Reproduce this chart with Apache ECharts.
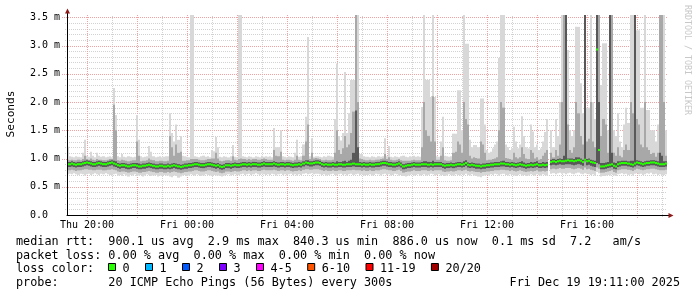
<!DOCTYPE html>
<html>
<head>
<meta charset="utf-8">
<script src="https://cdn.jsdelivr.net/npm/echarts@6/dist/echarts.min.js"></script>
<style>
html,body{margin:0;padding:0;background:#fff;}
#chart{width:697px;height:297px;}
</style>
</head>
<body>
<div id="chart"></div>
<script>
// ---- time frame (hours since Thu 00:00) ----
const startHour = 19.2;          // Thu 19:12
const spanHours = 24;
const stepMinutes = 5;

// ---- axis ticks / labels ----
const labelHours = [20, 24, 28, 32, 36, 40];
const tickLabels = ['Thu 20:00', 'Fri 00:00', 'Fri 04:00', 'Fri 08:00', 'Fri 12:00', 'Fri 16:00'];
const majorHours = [20, 22, 24, 26, 28, 30, 32, 34, 36, 38, 40, 42];
const minorHours = [21, 23, 25, 27, 29, 31, 33, 35, 37, 39, 41, 43];
const yMajor = [0, 0.5, 1.0, 1.5, 2.0, 2.5, 3.0, 3.5];
const yMinor = [0.1, 0.2, 0.3, 0.4, 0.6, 0.7, 0.8, 0.9, 1.1, 1.2, 1.3, 1.4, 1.6, 1.7, 1.8, 1.9,
                2.1, 2.2, 2.3, 2.4, 2.6, 2.7, 2.8, 2.9, 3.1, 3.2, 3.3, 3.4];

// ---- per-step values, in 1/100 ms (288 five-minute steps) ----
const median = [
 90,90,91,90,89,90,90,91,92,93,92,91,90,90,91,92,91,90,90,91,92,93,91,90,
 88,87,88,88,87,86,87,88,88,87,86,86,87,87,88,89,88,87,86,86,87,87,86,86,
 87,86,87,88,87,86,85,86,87,87,88,88,89,90,90,89,88,88,89,90,90,89,88,87,
 88,86,85,86,88,88,87,88,89,88,88,89,90,90,89,90,89,90,90,89,89,90,91,90,
 90,90,90,91,90,89,90,90,89,90,90,89,88,89,89,90,89,91,93,92,91,91,92,93,
 93,92,90,89,90,89,89,90,89,89,90,90,89,89,90,90,90,91,90,90,90,89,90,89,
 89,90,89,89,90,90,91,92,92,91,90,90,89,89,90,91,89,86,87,88,88,89,90,89,
 89,89,90,90,90,89,90,89,90,90,90,90,88,87,88,88,89,88,89,90,90,89,90,92,
 89,88,89,88,87,87,86,87,87,88,88,89,89,90,90,90,91,91,90,90,89,90,89,88,
 89,90,89,88,87,88,89,88,89,90,88,88,89,88,89,null,94,95,94,95,96,95,95,96,
 97,96,96,95,96,97,96,94,98,95,96,94,93,92,293,115,86,86,87,88,89,90,87,86,
 90,91,92,92,92,91,90,89,91,93,92,91,90,91,92,92,93,93,92,91,90,90,90,91
];
const pingMax = [
 121,104,103,102,104,103,102,110,133,105,103,112,105,102,110,105,103,104,102,103,104,102,225,177,
 104,102,108,103,102,104,103,102,103,177,133,104,102,103,104,122,112,104,102,103,104,102,103,104,
 104,180,145,130,160,133,140,105,104,103,102,360,360,104,103,102,104,105,103,104,102,115,113,138,
 120,103,102,104,103,102,104,124,103,102,360,360,104,103,102,104,103,102,104,103,102,105,103,104,
 103,104,102,154,120,120,150,104,103,102,104,103,102,110,133,103,104,125,174,315,104,136,103,104,
 104,103,102,104,103,105,104,103,170,268,140,132,145,253,145,180,239,239,360,360,108,108,104,103,
 103,102,104,103,102,104,103,104,136,104,122,103,102,104,103,102,104,105,103,102,104,103,105,103,
 104,103,191,360,239,239,209,360,209,104,103,130,174,105,104,103,104,144,144,221,221,150,360,303,
 303,133,120,124,124,120,206,206,160,115,110,112,118,125,130,278,360,360,125,120,115,118,156,130,
 118,125,175,140,120,118,160,148,120,125,115,118,130,147,170,null,150,120,170,140,200,360,360,360,
 292,150,140,150,333,333,233,180,360,190,190,360,200,170,360,360,230,304,304,150,360,360,150,140,
 180,130,120,160,190,163,360,360,360,327,327,190,190,360,186,186,150,150,130,160,360,360,360,150
];
const ping90 = [
 98,97,98,97,97,98,97,99,105,99,98,100,98,97,99,98,98,97,97,98,99,99,195,150,
 97,96,98,97,96,95,96,97,97,130,105,95,96,96,97,100,98,97,95,95,96,96,95,95,
 96,140,120,105,125,110,112,96,96,97,97,99,99,99,99,98,97,97,98,99,99,100,100,110,
 100,96,95,96,97,97,96,104,98,97,99,100,99,99,98,99,98,99,99,98,98,99,100,99,
 98,98,98,115,105,104,112,98,97,98,98,97,96,98,105,98,97,105,130,160,99,110,100,101,
 100,99,97,97,98,97,97,98,110,150,115,108,118,140,120,125,145,183,360,200,100,99,98,97,
 97,98,97,97,98,98,99,100,108,99,102,98,97,97,98,99,97,96,96,96,96,97,98,97,
 97,97,120,200,150,140,130,210,130,98,98,105,120,97,96,96,97,110,112,130,125,110,200,170,
 160,105,100,102,101,100,130,125,110,97,98,98,99,100,102,150,200,190,101,100,99,98,110,102,
 100,102,120,108,100,99,115,110,100,102,98,99,105,110,115,null,110,102,115,105,125,200,360,360,
 160,115,110,120,200,180,140,125,360,130,135,200,130,120,360,360,140,170,160,110,360,360,110,105,
 120,105,102,115,125,115,200,180,360,170,160,125,120,200,120,115,108,110,103,110,360,360,200,105
];
const ping75 = [
 94,94,95,94,93,94,94,95,96,97,96,95,94,94,95,96,95,94,94,95,96,97,96,95,
 92,91,92,92,91,90,91,92,92,92,91,90,91,91,92,93,92,91,90,90,91,91,90,90,
 91,90,91,92,91,90,89,90,91,91,92,92,93,94,94,93,92,92,93,94,94,93,92,91,
 92,90,89,90,92,92,91,92,93,92,92,93,94,94,93,94,93,94,94,93,93,94,95,94,
 94,94,94,95,94,93,94,94,93,94,94,93,92,93,93,94,93,95,97,97,95,95,96,97,
 97,96,94,93,94,93,93,94,93,95,94,94,95,96,94,96,98,110,185,120,94,93,94,93,
 93,94,93,93,94,94,95,96,96,95,94,94,93,93,94,95,93,90,91,92,92,93,94,93,
 93,93,94,95,95,94,94,96,94,94,94,94,92,91,92,92,93,92,93,94,94,93,95,97,
 93,92,93,92,91,91,90,91,91,92,92,93,93,94,94,94,95,96,94,94,93,94,93,92,
 93,94,95,93,91,92,94,93,94,95,92,92,94,93,94,null,98,99,98,99,100,99,105,360,
 100,100,100,99,102,102,100,98,360,99,100,98,97,96,360,200,92,92,93,94,360,110,93,92,
 95,95,96,96,96,95,96,96,360,97,96,95,94,95,96,96,97,97,96,95,110,105,95,95
];
const ping25 = [
 85,85,86,85,84,85,85,86,87,88,87,86,85,85,86,87,86,85,85,86,87,88,86,85,
 83,82,83,83,82,81,82,83,83,82,81,81,82,82,83,84,83,82,81,81,82,82,81,81,
 82,81,82,83,82,81,80,81,82,82,83,83,84,85,85,84,83,83,84,85,85,84,83,82,
 83,81,80,81,83,83,82,83,84,83,83,84,85,85,84,85,84,85,85,84,84,85,86,85,
 85,85,85,86,85,84,85,85,84,85,85,84,83,84,84,85,84,86,88,87,86,86,87,88,
 88,87,85,84,85,84,84,85,84,84,85,85,84,84,85,85,85,86,85,85,85,84,85,84,
 84,85,84,84,85,85,86,87,87,86,85,85,84,84,85,86,84,81,82,83,83,84,85,84,
 84,84,85,85,85,84,85,84,85,85,85,85,83,82,83,83,84,83,84,85,85,84,85,87,
 84,83,84,83,82,82,81,82,82,83,83,84,84,85,85,85,86,86,85,85,84,85,84,83,
 84,85,84,83,82,83,84,83,84,85,83,83,84,83,84,null,88,89,88,89,90,89,89,90,
 90,90,89,88,89,90,89,87,95,88,89,87,86,85,92,90,81,81,82,83,84,85,82,81,
 85,86,87,87,87,86,85,84,86,88,87,86,85,86,87,87,88,88,87,86,85,85,85,86
];
const ping10 = [
 79,79,80,79,78,79,79,80,81,81,80,80,79,79,80,80,80,79,79,80,80,81,80,79,
 77,76,77,77,76,75,76,77,77,76,75,75,76,76,77,78,77,76,75,75,76,76,75,75,
 76,75,76,77,76,75,74,75,76,76,77,77,78,79,79,78,77,77,78,79,79,78,77,76,
 77,75,74,75,77,77,76,77,78,77,77,78,79,79,78,79,78,79,79,78,78,79,80,79,
 79,79,79,80,79,78,79,79,78,79,79,78,77,78,78,79,78,80,81,81,80,80,81,81,
 81,80,79,78,79,78,78,79,78,78,79,79,78,78,79,79,79,80,79,79,79,78,79,78,
 78,79,78,78,79,79,80,81,81,80,79,79,78,78,79,80,78,75,76,77,77,78,79,78,
 78,78,79,79,79,78,79,78,79,79,79,79,77,76,77,77,78,77,78,79,79,78,79,80,
 78,77,78,77,76,76,75,76,76,77,77,78,78,79,79,79,80,80,79,79,78,79,78,77,
 78,79,78,77,76,77,78,77,78,79,77,77,78,77,78,null,81,82,81,82,83,82,82,83,
 83,83,82,81,82,83,82,80,84,81,82,80,79,78,84,82,75,75,76,77,78,79,76,75,
 79,80,81,81,81,80,79,78,80,82,81,80,79,80,81,81,82,82,81,80,79,79,79,80
];
const pingMin = [
 72,73,72,74,72,71,73,72,70,72,73,71,72,74,72,71,73,72,74,72,71,70,72,73,
 70,71,69,72,70,68,71,70,72,69,70,71,68,70,72,71,69,70,71,68,70,69,71,70,
 70,68,67,70,69,66,68,70,71,69,70,72,71,70,72,71,69,70,72,71,70,69,71,70,
 70,69,68,70,71,72,70,71,72,70,71,72,73,71,72,73,71,72,74,72,71,73,72,71,
 72,71,73,72,70,72,73,71,72,70,72,73,71,72,70,72,71,73,74,72,73,74,72,73,
 73,72,71,72,70,71,72,73,71,70,72,73,71,72,70,72,73,71,72,73,71,72,70,71,
 71,72,70,71,73,72,70,72,73,71,72,70,71,73,72,70,71,69,68,70,71,72,70,71,
 72,70,71,72,70,71,73,72,70,71,72,70,71,69,70,72,71,70,72,71,70,72,71,73,
 71,70,72,70,69,68,67,69,70,71,70,72,71,73,72,70,72,73,71,70,72,71,70,69,
 71,72,70,71,69,70,72,71,70,72,71,70,72,71,70,null,73,74,72,74,75,73,74,72,
 74,75,73,72,74,75,73,72,74,73,72,71,72,70,76,74,68,69,70,71,70,72,70,69,
 72,73,74,72,73,71,72,70,73,74,72,73,71,72,74,73,75,72,73,71,72,70,71,72
];

// ---- legend texts ----
const lossLabels = ['0', '1', '2', '3', '4-5', '6-10', '11-19', '20/20'];
const lossColors = ['#26ff00', '#00b8ff', '#0059ff', '#7e00ff', '#ff00ff', '#ff5500', '#ff0000', '#a10000'];
const statLines = [
  'median rtt:  900.1 us avg  2.9 ms max  840.3 us min  886.0 us now  0.1 ms sd  7.2   am/s',
  'packet loss: 0.00 % avg  0.00 % max  0.00 % min  0.00 % now'
];
const probeText = 'probe:       20 ICMP Echo Pings (56 Bytes) every 300s';
const dateText = 'Fri Dec 19 19:11:00 2025';

// ---- build ----
const stepHours = stepMinutes / 60;
const toMs = v => (v === null ? null : v / 100);
const data = median.map((m, i) => [
  startHour + i * stepHours,
  toMs(pingMin[i]), toMs(ping10[i]), toMs(ping25[i]),
  toMs(ping75[i]), toMs(ping90[i]), toMs(pingMax[i]), toMs(m)
]);

const MONO = '"DejaVu Sans Mono"';
const RED = '#f0a2a2';
const GREY = '#d2d2d2';

const chart = echarts.init(document.getElementById('chart'), null, {renderer: 'canvas'});

function renderSmoke(params, api) {
  const idx = params.dataIndex;
  const v = [1, 2, 3, 4, 5, 6, 7].map(k => api.value(k));
  if (v.some(x => x == null || isNaN(x))) return null;
  const cs = params.coordSys;
  const clip = {x: cs.x, y: cs.y, width: cs.width, height: cs.height};
  const tA = startHour + idx * stepHours;
  const tB = startHour + (idx + 1) * stepHours;
  const xa = Math.round(api.coord([tA, 0])[0]);
  const xb = Math.round(api.coord([tB, 0])[0]);
  const band = (lo, hi, fill) => {
    const yt = api.coord([tA, hi])[1];
    const yb = api.coord([tA, lo])[1];
    const r = echarts.graphic.clipRectByRect({x: xa, y: yt, width: xb - xa, height: yb - yt}, clip);
    return r ? {type: 'rect', shape: r, style: {fill: fill}} : null;
  };
  const ym = api.coord([tA, v[6]])[1];
  const medRect = echarts.graphic.clipRectByRect({x: xa, y: ym - 1, width: xb - xa, height: 2}, clip);
  const children = [
    band(v[0], v[5], '#d8d8d8'),
    band(v[1], v[4], '#a8a8a8'),
    band(v[2], v[3], '#585858'),
    medRect ? {type: 'rect', shape: medRect, style: {fill: lossColors[0]}} : null
  ].filter(Boolean);
  return {type: 'group', children: children};
}

// grid line series (vertical: dim0 = hour; horizontal: dim1 = value)
function vGrid(name, hours, color, ext) {
  return {
    type: 'custom', name: name, silent: true, z: 1, clip: false,
    data: hours.map(h => [h, 0]),
    renderItem: function (params, api) {
      const cs = params.coordSys;
      const x = Math.round(api.coord([api.value(0), 0])[0]) + 0.5;
      return {type: 'line', shape: {x1: x, y1: cs.y + cs.height + ext, x2: x, y2: cs.y},
        style: {stroke: color, lineWidth: 1, lineDash: [1, 1]}};
    }
  };
}
function hGrid(name, vals, color, ext) {
  return {
    type: 'custom', name: name, silent: true, z: 1, clip: false,
    data: vals.map(v => [startHour, v]),
    renderItem: function (params, api) {
      const cs = params.coordSys;
      const y = Math.round(api.coord([startHour, api.value(1)])[1]) + 0.5;
      return {type: 'line', shape: {x1: cs.x - ext, y1: y, x2: cs.x + cs.width, y2: y},
        style: {stroke: color, lineWidth: 1, lineDash: [1, 1]}};
    }
  };
}

// legend graphics
const graphics = [];
const lineY = [242, 256, 269, 283];
statLines.forEach((s, k) => {
  graphics.push({type: 'text', x: 16, y: lineY[k], silent: true,
    style: {text: s, font: '11.8px ' + MONO, fill: '#000', textAlign: 'left', textVerticalAlign: 'middle'}});
});
graphics.push({type: 'text', x: 16, y: lineY[2], silent: true,
  style: {text: 'loss color:', font: '11.8px ' + MONO, fill: '#000', textAlign: 'left', textVerticalAlign: 'middle'}});
let cursor = 108.5;
lossLabels.forEach((lab, k) => {
  graphics.push({type: 'rect', silent: true,
    shape: {x: cursor, y: 263.5, width: 7, height: 7},
    style: {fill: lossColors[k], stroke: '#000', lineWidth: 1}});
  graphics.push({type: 'text', x: cursor + 14, y: lineY[2], silent: true,
    style: {text: lab, font: '11.8px ' + MONO, fill: '#000', textAlign: 'left', textVerticalAlign: 'middle'}});
  cursor += 29.9 + 7.1 * lab.length;
});
graphics.push({type: 'text', x: 16, y: lineY[3], silent: true,
  style: {text: probeText, font: '11.8px ' + MONO, fill: '#000', textAlign: 'left', textVerticalAlign: 'middle'}});
graphics.push({type: 'text', x: 680, y: lineY[3], silent: true,
  style: {text: dateText, font: '11.8px ' + MONO, fill: '#000', textAlign: 'right', textVerticalAlign: 'middle'}});
// axis title and watermark
graphics.push({type: 'text', x: 11, y: 114, rotation: Math.PI / 2, silent: true,
  style: {text: 'Seconds', font: '11.2px ' + MONO, fill: '#000', textAlign: 'center', textVerticalAlign: 'middle'}});
graphics.push({type: 'text', x: 687, y: 60, rotation: -Math.PI / 2, silent: true,
  style: {text: 'RRDTOOL / TOBI OETIKER', font: '8.3px ' + MONO, fill: '#c8c8c8', textAlign: 'center', textVerticalAlign: 'middle'}});
// axis arrows
graphics.push({type: 'line', silent: true, shape: {x1: 67.5, y1: 15, x2: 67.5, y2: 12}, style: {stroke: '#000', lineWidth: 1}});
graphics.push({type: 'polygon', silent: true, shape: {points: [[65, 13.5], [70, 13.5], [67.5, 8.5]]}, style: {fill: '#8e1a1a'}});
graphics.push({type: 'line', silent: true, shape: {x1: 667, y1: 215.5, x2: 669, y2: 215.5}, style: {stroke: '#000', lineWidth: 1}});
graphics.push({type: 'polygon', silent: true, shape: {points: [[668.5, 213], [668.5, 218], [673.5, 215.5]]}, style: {fill: '#8e1a1a'}});

const axisFont = {fontFamily: MONO, fontSize: 10, color: '#000'};

const option = {
  animation: false,
  backgroundColor: '#ffffff',
  grid: {left: 67, top: 15, width: 600, height: 200, containLabel: false},
  xAxis: [
    {
      type: 'value', min: startHour, max: startHour + spanHours, position: 'bottom', z: 5,
      axisLine: {show: true, onZero: false, lineStyle: {color: '#000', width: 1}},
      axisTick: {show: false},
      axisLabel: Object.assign({
        show: true, margin: 5, customValues: labelHours,
        formatter: function (val) {
          const k = labelHours.findIndex(h => Math.abs(h - val) < 1e-6);
          return k >= 0 ? tickLabels[k] : '';
        }
      }, axisFont),
      splitLine: {show: false}
    }
  ],
  yAxis: [
    {
      type: 'value', min: 0, max: 3.54, position: 'left', z: 5,
      axisLine: {show: true, onZero: false, lineStyle: {color: '#000', width: 1}},
      axisTick: {show: false},
      axisLabel: Object.assign({
        show: true, customValues: yMajor, align: 'left', margin: 37,
        formatter: function (val) { return val === 0 ? '0.0' : val.toFixed(1) + ' m'; }
      }, axisFont),
      splitLine: {show: false}
    }
  ],
  series: [
    vGrid('minor v', minorHours, GREY, 2),
    hGrid('minor h', yMinor, GREY, 2),
    vGrid('major v', majorHours, RED, 3),
    hGrid('major h', yMajor.filter(v => v > 0), RED, 5),
    {
      type: 'custom',
      name: 'smoke',
      xAxisIndex: 0,
      yAxisIndex: 0,
      silent: true,
      renderItem: renderSmoke,
      data: data,
      z: 3
    }
  ],
  graphic: graphics
};
chart.setOption(option);
</script>
</body>
</html>
